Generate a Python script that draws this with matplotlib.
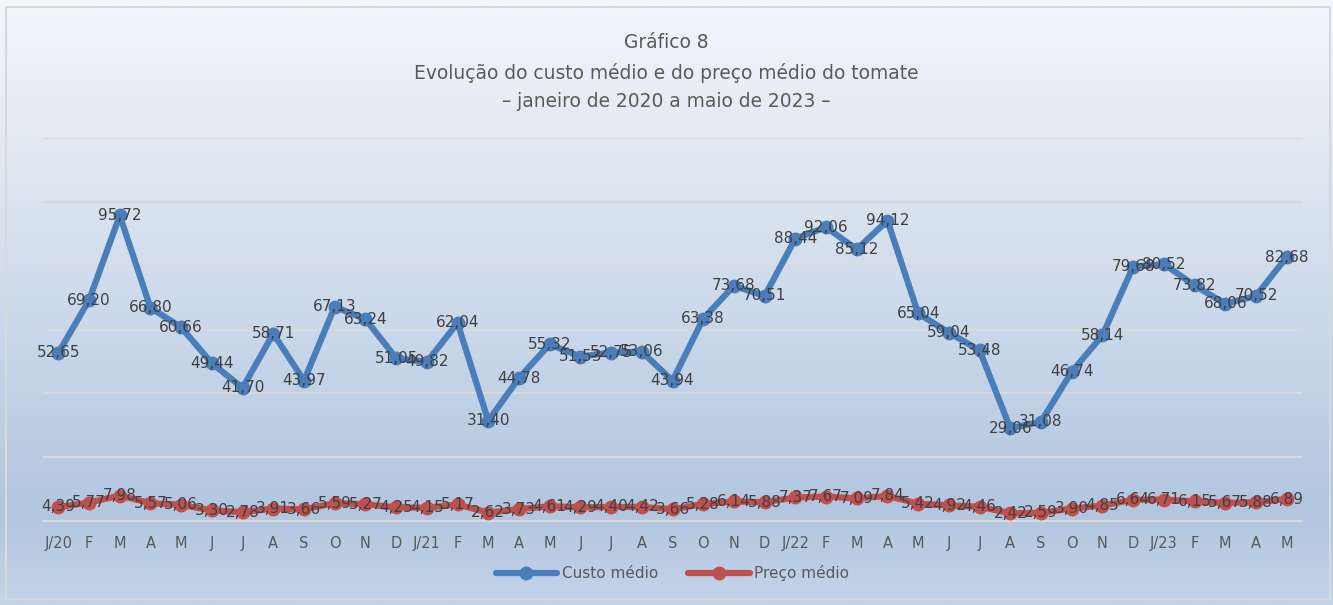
import numpy as np
import matplotlib
matplotlib.use("Agg")
import matplotlib.pyplot as plt
from matplotlib.colors import LinearSegmentedColormap
from matplotlib.patches import Rectangle

plt.rcParams['font.family'] = ['DejaVu Sans']

# meses (jan/2020 a mai/2023)
meses = ['J/20', 'F', 'M', 'A', 'M', 'J', 'J', 'A', 'S', 'O', 'N', 'D',
         'J/21', 'F', 'M', 'A', 'M', 'J', 'J', 'A', 'S', 'O', 'N', 'D',
         'J/22', 'F', 'M', 'A', 'M', 'J', 'J', 'A', 'S', 'O', 'N', 'D',
         'J/23', 'F', 'M', 'A', 'M']

custo_medio = [52.65, 69.20, 95.72, 66.80, 60.66, 49.44, 41.70, 58.71, 43.97, 67.13, 63.24, 51.05,
               49.82, 62.04, 31.40, 44.78, 55.32, 51.53, 52.75, 53.06, 43.94, 63.38, 73.68, 70.51,
               88.44, 92.06, 85.12, 94.12, 65.04, 59.04, 53.48, 29.06, 31.08, 46.74, 58.14, 79.68,
               80.52, 73.82, 68.06, 70.52, 82.68]

preco_medio = [4.39, 5.77, 7.98, 5.57, 5.06, 3.30, 2.78, 3.91, 3.66, 5.59, 5.27, 4.25,
               4.15, 5.17, 2.62, 3.73, 4.61, 4.29, 4.40, 4.42, 3.66, 5.28, 6.14, 5.88,
               7.37, 7.67, 7.09, 7.84, 5.42, 4.92, 4.46, 2.42, 2.59, 3.90, 4.85, 6.64,
               6.71, 6.15, 5.67, 5.88, 6.89]

azul = '#4a7ebb'
vermelho = '#c0504d'

fig = plt.figure(figsize=(13.33, 6.05), dpi=100)

# fundo em degradê
bg = fig.add_axes([0, 0, 1, 1], zorder=-10)
cmap = LinearSegmentedColormap.from_list('fundo', [(0, '#f4f7fb'), (0.85, '#b2c6e0'), (1.0, '#c4d4e9')])
grad = np.linspace(0, 1, 256).reshape(-1, 1)
bg.imshow(grad, aspect='auto', cmap=cmap, extent=[0, 1, 0, 1], origin='upper')
bg.add_patch(Rectangle((6 / 1333, 6 / 605), 1324 / 1333, 592 / 605, fill=False,
                       edgecolor='#d9d9d9', linewidth=1.5, transform=bg.transAxes))
bg.set_xlim(0, 1)
bg.set_ylim(0, 1)
bg.axis('off')

ax = fig.add_axes([43 / 1333, 1 - 521 / 605, 1259 / 1333, 383 / 605])
ax.patch.set_alpha(0)
x = np.arange(len(meses))

ax.plot(x, custo_medio, color=azul, linewidth=4.5, marker='o', markersize=9,
        label='Custo médio', zorder=3, solid_capstyle='round')
ax.plot(x, preco_medio, color=vermelho, linewidth=4.5, marker='o', markersize=9,
        label='Preço médio', zorder=3, solid_capstyle='round')

# rótulos de dados (vírgula decimal)
for xi, v in zip(x, custo_medio):
    ax.text(xi, v, f'{v:.2f}'.replace('.', ','), ha='center', va='center',
            fontsize=11, color='#404040', zorder=4)
for xi, v in zip(x, preco_medio):
    ax.text(xi, v, f'{v:.2f}'.replace('.', ','), ha='center', va='center',
            fontsize=11, color='#404040', zorder=4)

ax.set_xlim(-0.5, len(meses) - 0.5)
ax.set_ylim(0, 120)
ax.set_yticks(np.arange(0, 121, 20))
ax.yaxis.grid(True, color='#d9d9d9', linewidth=1.5)
ax.set_axisbelow(True)
ax.tick_params(axis='y', left=False, labelleft=False)
ax.set_xticks(x)
ax.set_xticklabels(meses, fontsize=10.5, color='#595959')
ax.tick_params(axis='x', length=0, pad=11)
for s in ['top', 'right', 'left']:
    ax.spines[s].set_visible(False)
ax.spines['bottom'].set_color('#d9d9d9')
ax.spines['bottom'].set_linewidth(1.5)

leg = ax.legend(loc='center', bbox_to_anchor=(0.5, (521 - 573) / 383), ncol=2, frameon=False,
                fontsize=11, handlelength=4, columnspacing=2, handletextpad=0.3)
for t in leg.get_texts():
    t.set_color('#595959')

fig.text(0.5, 1 - 43 / 605, 'Gráfico 8', ha='center', va='center', fontsize=13.4, color='#595959')
fig.text(0.5, 1 - 73 / 605, 'Evolução do custo médio e do preço médio do tomate',
         ha='center', va='center', fontsize=13.4, color='#595959')
fig.text(0.5, 1 - 101 / 605, '– janeiro de 2020 a maio de 2023 –', ha='center', va='center',
         fontsize=13.4, color='#595959')

fig.savefig('out.png', dpi=100)
